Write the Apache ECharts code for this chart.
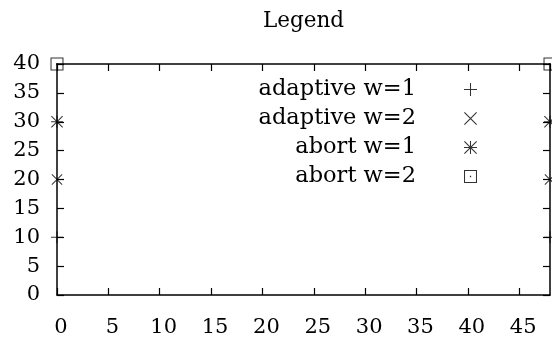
<!DOCTYPE html>
<html><head><meta charset="utf-8">
<script src="https://cdn.jsdelivr.net/npm/echarts@6/dist/echarts.min.js"></script>
<style>html,body{margin:0;padding:0;background:#fff}#c{width:552px;height:340px}</style>
</head><body><div id="c"></div>
<script>
// ---- data ----
const titleText = 'Legend';
const seriesNames = ['adaptive w=1', 'adaptive w=2', 'abort w=1', 'abort w=2'];
const xValues = [0, 48];
const yAdaptiveW1 = [10, 10];
const yAdaptiveW2 = [20, 20];
const yAbortW1 = [30, 30];
const yAbortW2 = [40, 40];
const xTickLabels = [0, 5, 10, 15, 20, 25, 30, 35, 40, 45];
const yTickLabels = [0, 5, 10, 15, 20, 25, 30, 35, 40];
const xRange = [0, 48];
const yRange = [0, 40];

// ---- symbols ----
const SYM_PLUS = 'path://M46,0H54V100H46Z M0,46H100V54H0Z';
const SYM_CROSS = 'path://M0,6L6,0L100,94L94,100Z M94,0L100,6L6,100L0,94Z';
const SYM_STAR = 'path://M46,0H54V100H46Z M0,46H100V54H0Z M0,6L6,0L100,94L94,100Z M94,0L100,6L6,100L0,94Z';
const SYM_BOX = 'path://M0,0H100V100H0Z M8,8V92H92V8Z M45,45H55V55H45Z';
const symbols = [SYM_PLUS, SYM_CROSS, SYM_STAR, SYM_BOX];
const symbolSizes = [12, 11, 12, 13];
const ys = [yAdaptiveW1, yAdaptiveW2, yAbortW1, yAbortW2];

const FONT = 'DejaVu Serif';
const FS = 21;

const chart = echarts.init(document.getElementById('c'), null, {renderer: 'canvas'});
const axisCommon = {
  axisLine: {show: true, onZero: false, lineStyle: {color: '#000', width: 1.5}},
  axisTick: {show: true, inside: true, length: 7, lineStyle: {color: '#000', width: 1.2}},
  splitLine: {show: false}
};
const option = {
  backgroundColor: '#fff',
  animation: false,
  title: {
    text: titleText, left: 263, top: 10, padding: 0,
    textStyle: {fontFamily: FONT, fontSize: 21.5, fontWeight: 'normal', color: '#000'}
  },
  grid: {left: 57, right: 2, top: 64, bottom: 45, show: false, containLabel: false},
  legend: {
    orient: 'vertical', align: 'right', right: 75, top: 78, padding: 0,
    itemWidth: 13, itemHeight: 13, itemGap: 6,
    selectedMode: false,
    data: seriesNames.map((n, i) => ({name: n, icon: symbols[i]})),
    itemStyle: {color: '#000', borderWidth: 0},
    textStyle: {fontFamily: FONT, fontSize: 22.5, color: '#000', padding: [0, 43, 0, 0]}
  },
  xAxis: [
    Object.assign({}, axisCommon, {
      type: 'value', position: 'bottom', min: xRange[0], max: xRange[1], interval: 5,
      axisLabel: {show: true, margin: 22, padding: [0, 0, 0, 8], fontFamily: FONT, fontSize: FS, color: '#000', showMaxLabel: false,
        formatter: v => xTickLabels.includes(v) ? String(v) : ''}
    }),
    Object.assign({}, axisCommon, {
      type: 'value', position: 'top', min: xRange[0], max: xRange[1], interval: 5,
      axisLabel: {show: false}
    })
  ],
  yAxis: [
    Object.assign({}, axisCommon, {
      type: 'value', position: 'left', min: yRange[0], max: yRange[1], interval: 5,
      axisLabel: {show: true, margin: 17, padding: [4, 0, 0, 0], fontFamily: FONT, fontSize: FS, color: '#000',
        formatter: v => yTickLabels.includes(v) ? String(v) : ''}
    }),
    Object.assign({}, axisCommon, {
      type: 'value', position: 'right', min: yRange[0], max: yRange[1], interval: 5,
      axisLabel: {show: false}
    })
  ],
  series: seriesNames.map((name, i) => ({
    name: name,
    type: 'scatter',
    xAxisIndex: 0, yAxisIndex: 0,
    clip: false,
    symbol: symbols[i],
    symbolSize: symbolSizes[i],
    symbolKeepAspect: true,
    itemStyle: {color: '#000', borderWidth: 0},
    emphasis: {disabled: true},
    data: xValues.map((x, k) => [x, ys[i][k]])
  }))
};
chart.setOption(option);
</script></body></html>
